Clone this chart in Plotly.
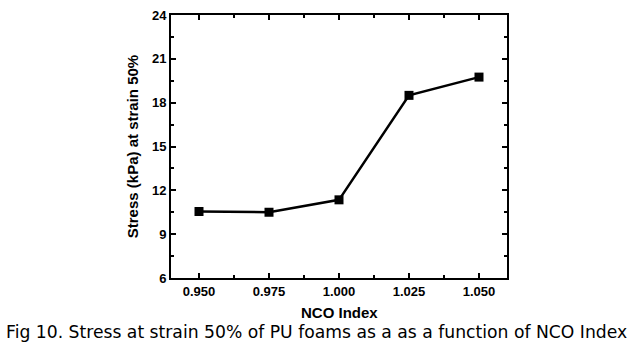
import plotly.graph_objects as go

nco_index = [0.950, 0.975, 1.000, 1.025, 1.050]
stress = [10.55, 10.5, 11.35, 18.5, 19.75]
x_ticks = [0.950, 0.975, 1.000, 1.025, 1.050]
x_tick_labels = ["0.950", "0.975", "1.000", "1.025", "1.050"]
y_ticks = [6, 9, 12, 15, 18, 21, 24]

L, R, T, B = 171, 507, 8, 278
W, H = 632, 347
pw, ph = R - L, B - T

fig = go.Figure()
fig.add_trace(go.Scatter(
    x=nco_index, y=stress, mode="lines+markers",
    line=dict(color="black", width=2.5),
    marker=dict(symbol="square", size=9, color="black"),
    showlegend=False,
))

bold = "Liberation Sans, Arial"
axis_font = dict(family=bold, size=13, color="black")
fig.update_xaxes(
    range=[0.94, 1.06], tickvals=x_ticks, ticktext=[f"<b>{t}</b>" for t in x_tick_labels],
    ticks="inside", ticklen=5, tickwidth=1.5, tickcolor="black",
    minor=dict(ticks="inside", ticklen=3, tickwidth=1.5, tickcolor="black", dtick=0.0125, tick0=0.9375),
    showline=True, linewidth=2, linecolor="black", mirror="ticks",
    showgrid=False, zeroline=False, tickfont=axis_font,
)
fig.update_yaxes(
    range=[6, 24], tickvals=y_ticks, ticktext=[f"<b>{t}</b>" for t in y_ticks],
    ticks="inside", ticklen=5, tickwidth=1.5, tickcolor="black",
    minor=dict(ticks="inside", ticklen=3, tickwidth=1.5, tickcolor="black", dtick=1.5, tick0=6),
    showline=True, linewidth=2, linecolor="black", mirror="ticks",
    showgrid=False, zeroline=False, tickfont=axis_font,
    title=dict(text="<b>Stress (kPa) at strain 50%</b>", font=dict(family=bold, size=15, color="black"), standoff=10),
)
fig.add_annotation(
    text="<b>NCO Index</b>",
    xref="paper", yref="paper", x=(339 - L) / pw, y=-(313 - B) / ph,
    yanchor="middle", xanchor="center", showarrow=False,
    font=dict(family=bold, size=15, color="black"),
)
fig.add_annotation(
    text="Fig 10. Stress at strain 50% of PU foams as a as a function of NCO Index",
    xref="paper", yref="paper", x=(316 - L) / pw, y=-(333 - B) / ph,
    yanchor="middle", xanchor="center", showarrow=False,
    font=dict(family="DejaVu Sans", size=17.2, color="black"),
)
fig.update_layout(
    width=W, height=H,
    margin=dict(l=L, r=W - R, t=T, b=H - B),
    paper_bgcolor="white", plot_bgcolor="white",
)
fig.write_html("out.html")
